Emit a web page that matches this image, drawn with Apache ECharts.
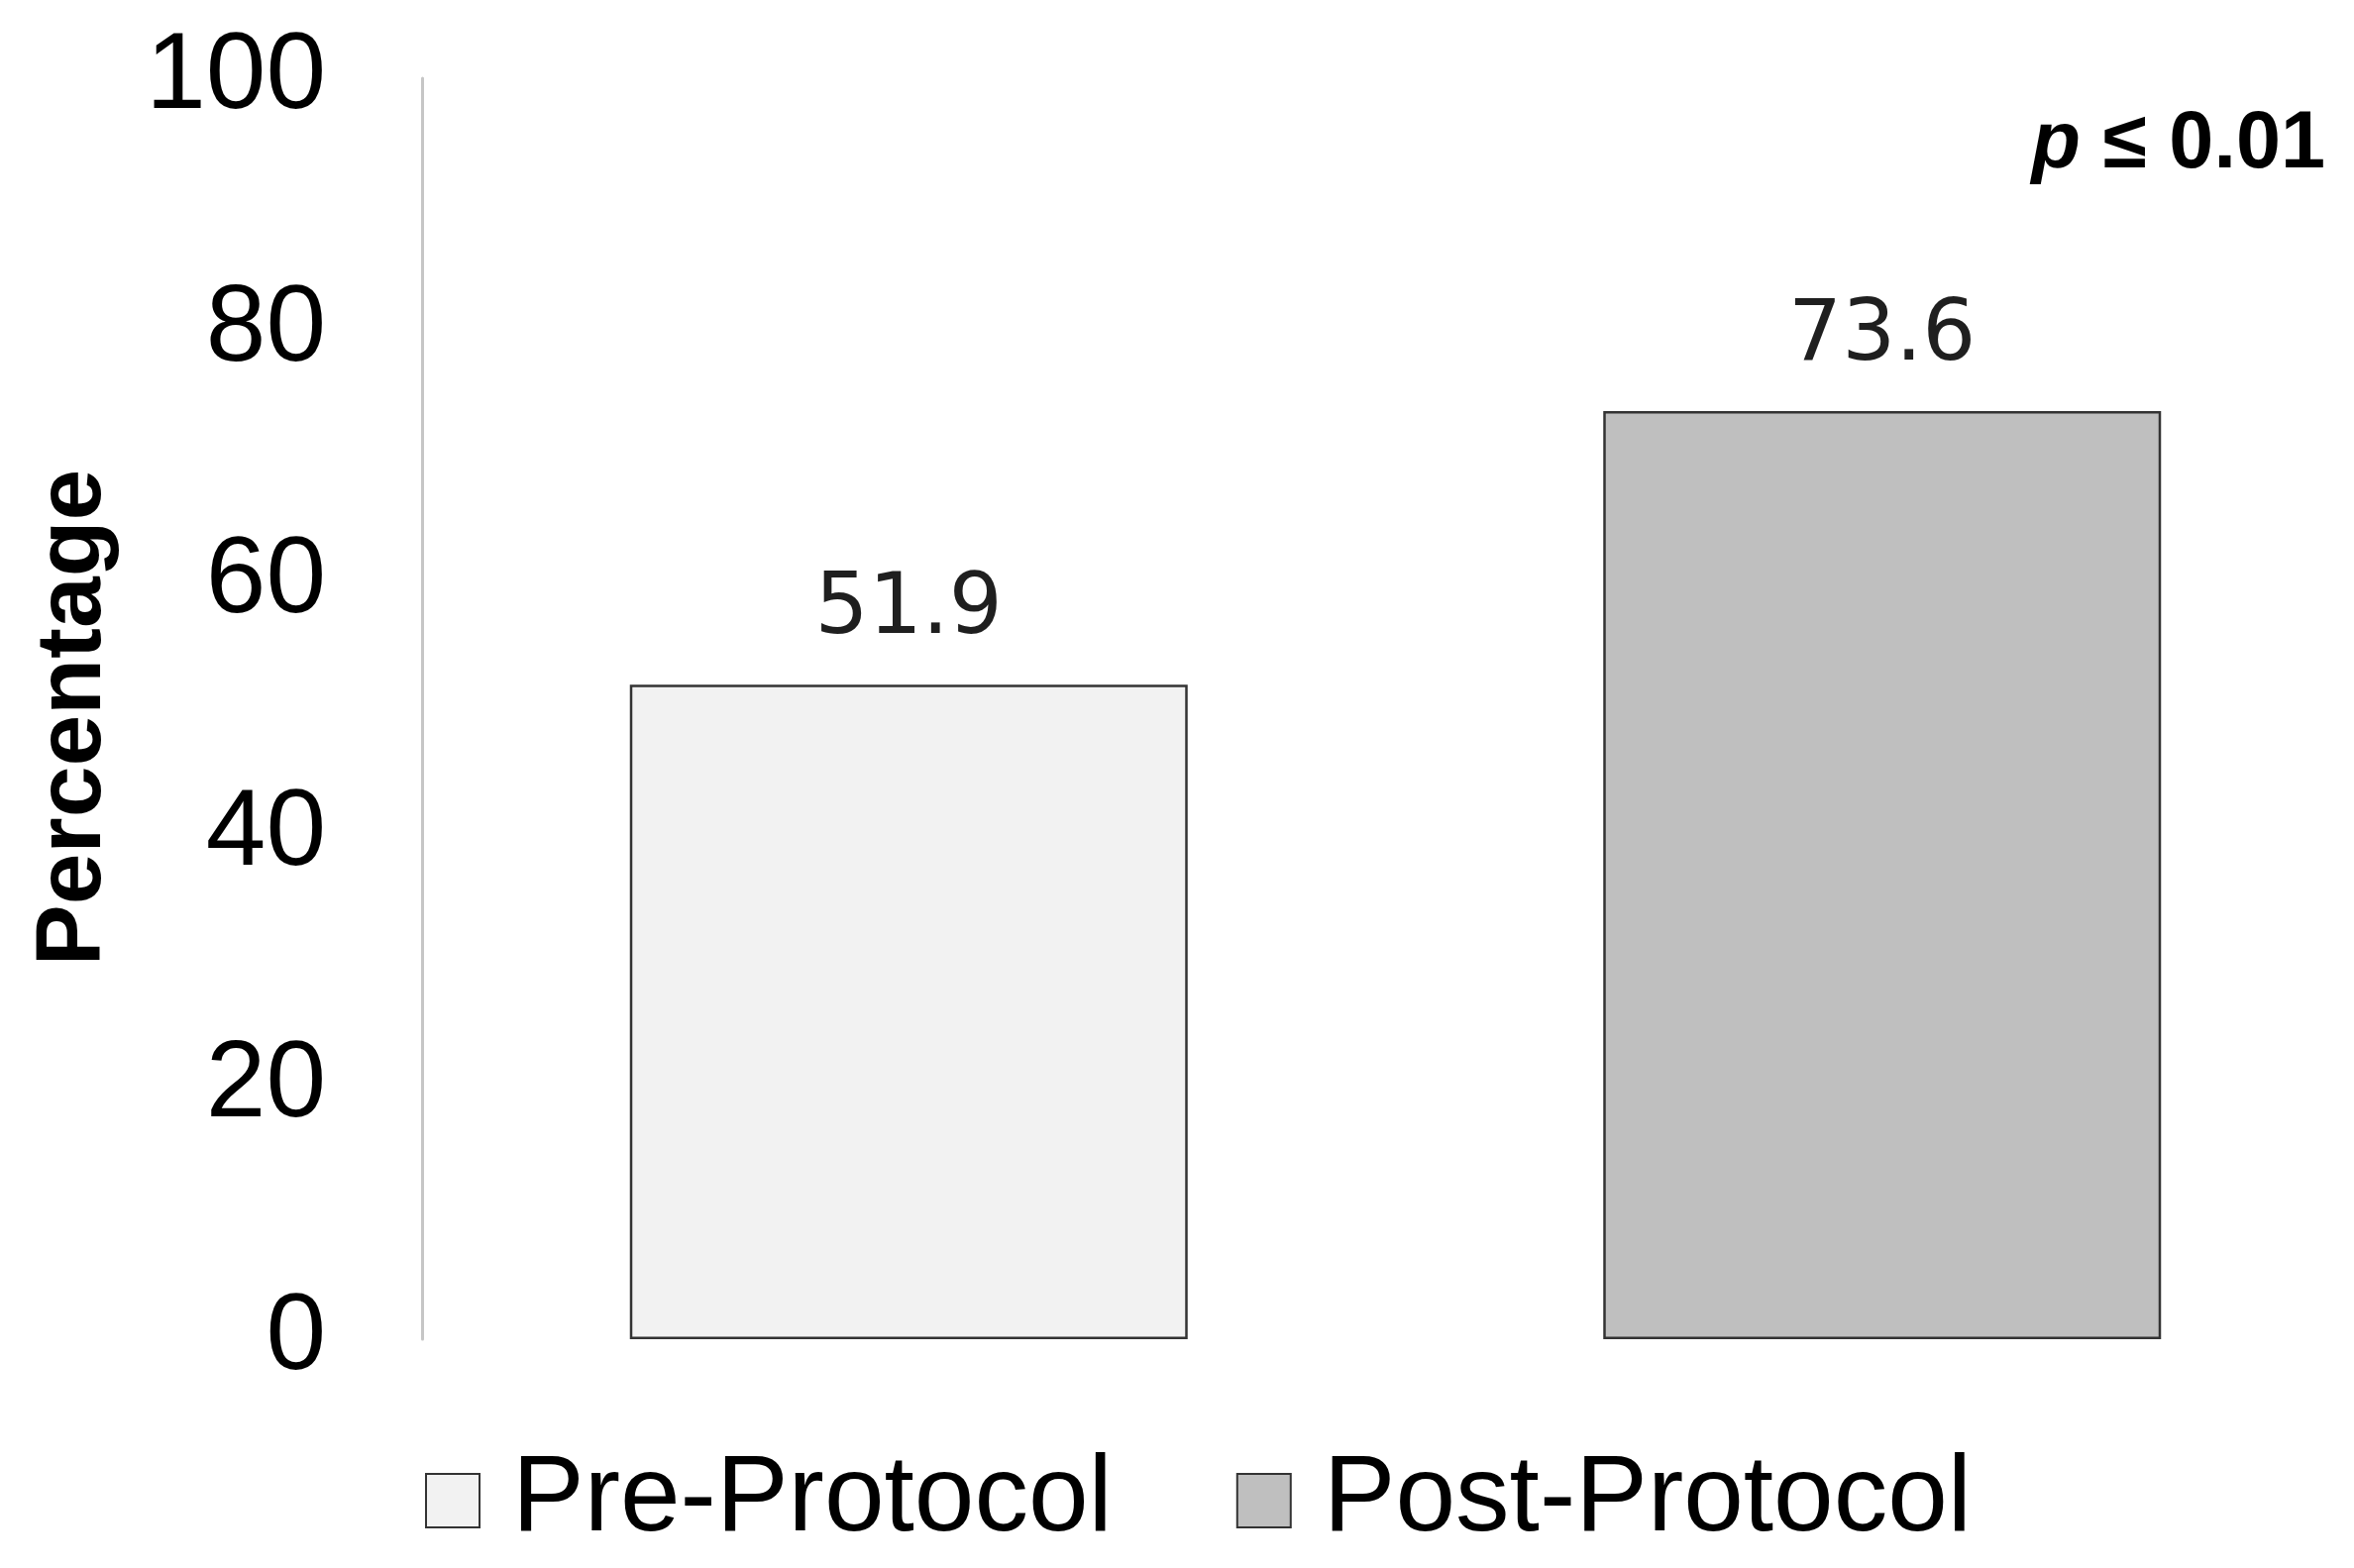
<!DOCTYPE html>
<html>
<head>
<meta charset="utf-8">
<script src="https://cdn.jsdelivr.net/npm/echarts@6/dist/echarts.min.js"></script>
<style>
html,body{margin:0;padding:0;background:#fff;overflow:hidden;}
#chart{width:2400px;height:1583px;}
</style>
</head>
<body>
<div id="chart"></div>
<script>
const categories = ['Pre-Protocol', 'Post-Protocol'];
const seriesNames = ['Pre-Protocol', 'Post-Protocol'];
const preValues = [51.9, null];
const postValues = [null, 73.6];
const yTicks = [0, 20, 40, 60, 80, 100];
const yAxisTitle = 'Percentage';
const pText = 'p';
const pRest = ' ≤ 0.01';

const chart = echarts.init(document.getElementById('chart'), null, {renderer: 'canvas'});

const labelStyle = {
  show: true,
  position: 'top',
  distance: 32,
  fontFamily: 'DejaVu Sans',
  fontSize: 85,
  color: '#1f1f1f',
  formatter: p => p.value == null ? '' : p.value.toFixed(1)
};

chart.setOption({
  animation: false,
  backgroundColor: '#ffffff',
  grid: {left: 426, right: 9, top: 79, bottom: 231, containLabel: false},
  legend: {
    data: seriesNames,
    left: 424,
    top: 1455,
    itemWidth: 54,
    itemHeight: 54,
    itemGap: 125,
    icon: 'rect',
    textStyle: {fontFamily: 'Liberation Sans, Arial', fontSize: 109, color: '#000', lineHeight: 110, padding: [0, 0, 0, 28]},
    selectedMode: false
  },
  xAxis: {
    type: 'category',
    data: categories,
    axisLine: {show: false},
    axisTick: {show: false},
    axisLabel: {show: false},
    splitLine: {show: false}
  },
  yAxis: {
    type: 'value',
    min: yTicks[0],
    max: yTicks[yTicks.length - 1],
    interval: yTicks[1] - yTicks[0],
    name: yAxisTitle,
    nameLocation: 'middle',
    nameGap: 304,
    nameRotate: 90,
    nameTextStyle: {fontFamily: 'Liberation Sans, Arial', fontWeight: 'bold', fontSize: 93, color: '#000', padding: [0, 18, 0, 0]},
    axisLine: {show: true, lineStyle: {color: '#c6c6c6', width: 3}},
    axisTick: {show: false},
    splitLine: {show: false},
    axisLabel: {fontFamily: 'Liberation Sans, Arial', fontSize: 109, color: '#000', margin: 97}
  },
  series: [
    {
      name: seriesNames[0],
      type: 'bar',
      data: preValues,
      barWidth: 563,
      barGap: '-100%',
      itemStyle: {color: '#f2f2f2', borderColor: '#333333', borderWidth: 2.5},
      label: labelStyle
    },
    {
      name: seriesNames[1],
      type: 'bar',
      data: postValues,
      barWidth: 563,
      barGap: '-100%',
      itemStyle: {color: '#bfbfbf', borderColor: '#333333', borderWidth: 2.5},
      label: labelStyle
    }
  ],
  graphic: [
    {
      type: 'text',
      right: 53,
      top: 106,
      style: {
        text: '{i|' + pText + '}{b|' + pRest + '}',
        rich: {
          i: {fontFamily: 'Liberation Sans, Arial', fontWeight: 'bold', fontStyle: 'italic', fontSize: 81, fill: '#000'},
          b: {fontFamily: 'Liberation Sans, Arial', fontWeight: 'bold', fontSize: 81, fill: '#000'}
        }
      }
    }
  ]
});
</script>
</body>
</html>
